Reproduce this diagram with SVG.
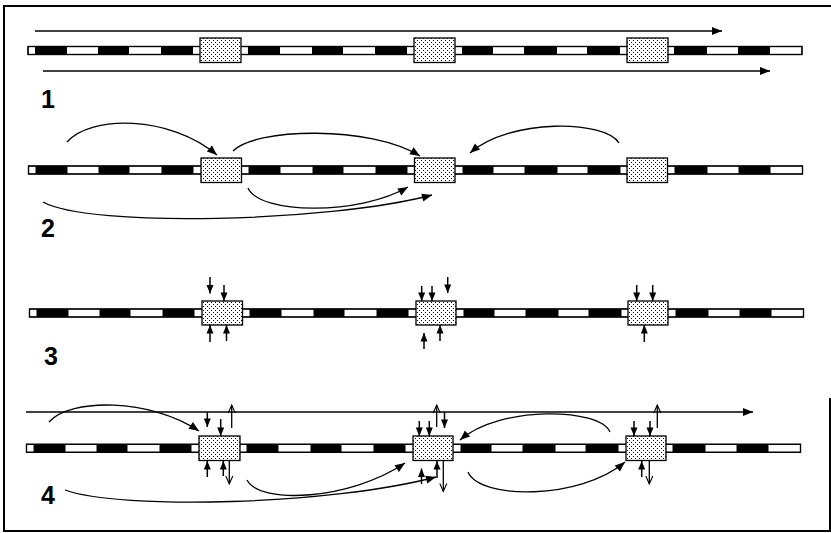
<svg xmlns="http://www.w3.org/2000/svg" xmlns:xlink="http://www.w3.org/1999/xlink" width="831" height="533" viewBox="0 0 831 533">
<style>
.frame{fill:none;stroke:#000;stroke-width:2}
.barbg{fill:#fff;stroke:#000;stroke-width:1.2}
.seg{fill:#000}
.box{fill:url(#dots);stroke:#000;stroke-width:1.3}
.ln{fill:none;stroke:#000;stroke-width:1.3}
.ls{fill:none;stroke:#000;stroke-width:1.5}
.big{marker-end:url(#fa)}
.sm{marker-end:url(#fs)}
.op{marker-end:url(#oa)}
.lbl{font-family:"Liberation Sans",Arial,sans-serif;font-weight:bold;font-size:25px;fill:#000}
</style>
<defs>
<pattern id="dots" width="4" height="4" patternUnits="userSpaceOnUse">
<rect width="4" height="4" fill="#fff"/>
<rect x="1" y="0" width="1" height="1" fill="#000"/>
<rect x="3" y="2" width="1" height="1" fill="#000"/>
</pattern>
<marker id="fa" markerUnits="userSpaceOnUse" markerWidth="11" markerHeight="9" refX="10" refY="4" orient="auto" overflow="visible">
<path d="M0,0 L10,4 L0,8 z" fill="#000"/>
</marker>
<marker id="fs" markerUnits="userSpaceOnUse" markerWidth="10" markerHeight="8" refX="8.5" refY="3.5" orient="auto" overflow="visible">
<path d="M0,0 L8.5,3.5 L0,7 z" fill="#000"/>
</marker>
<marker id="oa" markerUnits="userSpaceOnUse" markerWidth="9" markerHeight="8" refX="8" refY="3.5" orient="auto" overflow="visible">
<path d="M0,0 L8,3.5 L0,7" fill="none" stroke="#000" stroke-width="1.1"/>
</marker>
<g id="bar">
<rect class="barbg" x="28" y="46.5" width="774" height="8"/>
<rect class="seg" x="35" y="46.5" width="32" height="8"/>
<rect class="seg" x="98" y="46.5" width="31" height="8"/>
<rect class="seg" x="161" y="46.5" width="32" height="8"/>
<rect class="seg" x="248" y="46.5" width="32" height="8"/>
<rect class="seg" x="312" y="46.5" width="31" height="8"/>
<rect class="seg" x="375" y="46.5" width="32" height="8"/>
<rect class="seg" x="462" y="46.5" width="31" height="8"/>
<rect class="seg" x="524" y="46.5" width="33" height="8"/>
<rect class="seg" x="587" y="46.5" width="33" height="8"/>
<rect class="seg" x="674" y="46.5" width="33" height="8"/>
<rect class="seg" x="738" y="46.5" width="32" height="8"/>
<rect x="28" y="46.5" width="774" height="8" style="fill:none;stroke:#000;stroke-width:1.2"/>
</g>
</defs>
<rect width="831" height="533" fill="#fff"/>
<path class="frame" d="M830,398 V531 H4 V6 H831"/>

<!-- Row 1 -->
<g id="row1">
<use xlink:href="#bar"/>
<g id="r1-box1"><rect class="box" x="200" y="38" width="41" height="24.5"/></g>
<g id="r1-box2"><rect class="box" x="414" y="38" width="41" height="24.5"/></g>
<g id="r1-box3"><rect class="box" x="627" y="38" width="41" height="24.5"/></g>
<text class="lbl" x="41" y="108">1</text>
</g>

<!-- Row 2 -->
<g id="row2">
<use xlink:href="#bar" transform="translate(0.5,119.5)"/>
<g id="r2-box1"><rect class="box" x="201" y="158" width="40.5" height="24.5"/></g>
<g id="r2-box2"><rect class="box" x="414.5" y="158" width="40.5" height="24.5"/></g>
<g id="r2-box3"><rect class="box" x="627" y="158" width="40.5" height="24.5"/></g>
<text class="lbl" x="41" y="237">2</text>
</g>

<!-- Row 3 -->
<g id="row3">
<use xlink:href="#bar" transform="translate(1.5,262.5)"/>
<g id="r3-box1"><rect class="box" x="202" y="301" width="40.5" height="24"/></g>
<g id="r3-box2"><rect class="box" x="416" y="301" width="40" height="24"/></g>
<g id="r3-box3"><rect class="box" x="628" y="301" width="40" height="24"/></g>
<text class="lbl" x="44" y="365">3</text>
</g>

<!-- Row 4 -->
<g id="row4">
<use xlink:href="#bar" transform="translate(-1.5,397.8)"/>
<g id="r4-box1"><rect class="box" x="199" y="436" width="41" height="24.5"/></g>
<g id="r4-box2"><rect class="box" x="413" y="436" width="40" height="24.5"/></g>
<g id="r4-box3"><rect class="box" x="626" y="436" width="40" height="24.5"/></g>
<text class="lbl" x="41" y="503.5">4</text>
</g>

<g id="connectors">
<!-- row 1 -->
<path class="ln big" d="M35,31 H722"/>
<path class="ln big" d="M43,71 H770"/>
<!-- row 2 -->
<path class="ln big" d="M67,142 C90,115 170,115 217,155"/>
<path class="ln big" d="M233,151 C255,128 370,125 420,156"/>
<path class="ln big" d="M619,143 C605,120 510,118 470,153"/>
<path class="ln big" d="M248,188 C260,215 360,215 408,187"/>
<path class="ln big" d="M43,202 C90,228 330,222 432,195"/>
<!-- row 3 -->
<path class="ls sm" d="M210,277 V293.5"/>
<path class="ls sm" d="M224,285 V301"/>
<path class="ls sm" d="M210,342 V325"/>
<path class="ls sm" d="M226.5,341 V325"/>
<path class="ls sm" d="M421.7,286 V301"/>
<path class="ls sm" d="M432,286 V301"/>
<path class="ls sm" d="M447.7,277 V293"/>
<path class="ls sm" d="M424,349 V333"/>
<path class="ls sm" d="M440,341 V325"/>
<path class="ls sm" d="M636.7,285 V301"/>
<path class="ls sm" d="M652.7,285 V301"/>
<path class="ls sm" d="M644.3,342 V325"/>
<!-- row 4 -->
<path class="ln big" d="M26,412 H753"/>
<path class="ln big" d="M49,422 C70,398 150,398 199,431"/>
<path class="ln big" d="M247,480 C260,505 350,500 405,463"/>
<path class="ln big" d="M65,490 C120,510 330,505 436,477"/>
<path class="ln big" d="M610,432 C600,408 500,405 460,440"/>
<path class="ln big" d="M468,472 C480,500 580,500 625,462"/>
<!-- box1 row 4 -->
<path class="ls sm" d="M207.3,412 V427"/>
<path class="ls sm" d="M220.7,419 V436"/>
<path class="ln op" d="M231.7,428 V405"/>
<path class="ls sm" d="M207.3,477 V461"/>
<path class="ls sm" d="M223.3,476 V461"/>
<path class="ln op" d="M229.3,461 V484"/>
<!-- box2 row 4 -->
<path class="ln op" d="M436.7,427 V405"/>
<path class="ls sm" d="M444.5,412 V428"/>
<path class="ls sm" d="M419.3,421 V436"/>
<path class="ls sm" d="M429.3,421 V436"/>
<path class="ls sm" d="M421.5,484 V468.5"/>
<path class="ls sm" d="M437,478 V461"/>
<path class="ln op" d="M443.3,461 V491.5"/>
<!-- box3 row 4 -->
<path class="ls sm" d="M634,421 V436"/>
<path class="ls sm" d="M650,421 V436"/>
<path class="ln op" d="M657.3,428 V405"/>
<path class="ls sm" d="M641.7,477 V461"/>
<path class="ln op" d="M649.3,461 V484"/>
</g>
</svg>
